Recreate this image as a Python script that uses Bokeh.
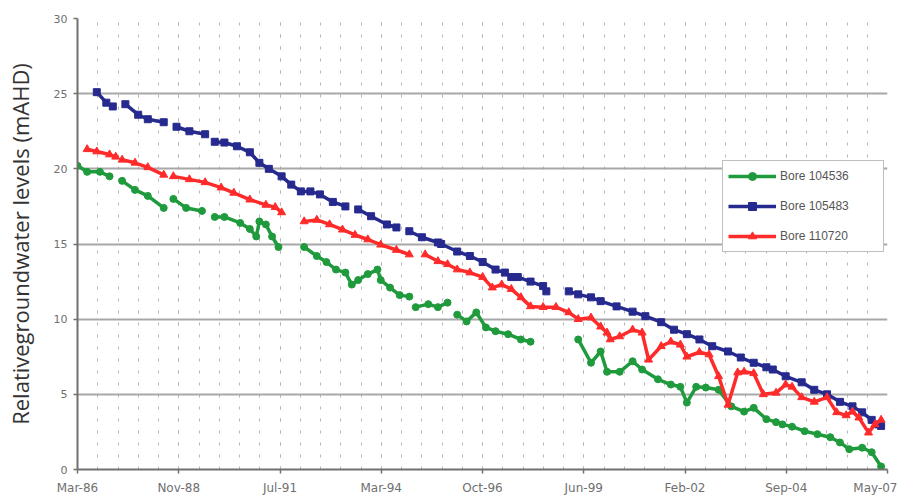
import numpy as np
import pandas as pd
from bokeh.plotting import figure
from bokeh.models import Range1d, FixedTicker, Legend, LegendItem
from bokeh.embed import file_html
from bokeh.resources import INLINE

# ---------------- data (None = gap in record) ----------------
tick_labels = ["Mar-86", "Nov-88", "Jul-91", "Mar-94", "Oct-96",
               "Jun-99", "Feb-02", "Sep-04", "May-07"]
y_ticks = [0, 5, 10, 15, 20, 25, 30]

green_dates = ["1986-03", "1986-06", "1986-10", "1987-01", None,
               "1987-05", "1987-09", "1988-01", "1988-06", None,
               "1988-09", "1989-01", "1989-06", None,
               "1989-10", "1990-01", "1990-06", "1990-09", "1990-11", "1990-12",
               "1991-02", "1991-04", "1991-06", None,
               "1992-02", "1992-06", "1992-09", "1992-12", "1993-03", "1993-05",
               "1993-07", "1993-10", "1994-01", "1994-02", "1994-05", "1994-08",
               "1994-11", None,
               "1995-01", "1995-05", "1995-08", "1995-11", None,
               "1996-02", "1996-05", "1996-08", "1996-11", "1997-02", "1997-06",
               "1997-10", "1998-01", None,
               "1999-04", "1999-08", "1999-11", "2000-01", "2000-05", "2000-09",
               "2000-12", "2001-05", "2001-09", "2001-12", "2002-02", "2002-05",
               "2002-08", "2002-12", "2003-04", "2003-08", "2003-11", "2004-03",
               "2004-06", "2004-08", "2004-11", "2005-03", "2005-07", "2005-11",
               "2006-02", "2006-05", "2006-09", "2006-12", "2007-03"]
green_vals = [20.2, 19.8, 19.8, 19.5, None,
              19.2, 18.6, 18.2, 17.4, None,
              18.0, 17.4, 17.2, None,
              16.8, 16.8, 16.4, 16.0, 15.5, 16.5,
              16.3, 15.5, 14.8, None,
              14.8, 14.2, 13.8, 13.3, 13.1, 12.3,
              12.6, 13.0, 13.3, 12.6, 12.1, 11.6,
              11.5, None,
              10.8, 11.0, 10.8, 11.1, None,
              10.3, 9.85, 10.45, 9.45, 9.2, 9.0,
              8.65, 8.5, None,
              8.65, 7.1, 7.85, 6.5, 6.5, 7.2,
              6.65, 6.0, 5.65, 5.5, 4.45, 5.5,
              5.45, 5.3, 4.2, 3.85, 4.1, 3.35,
              3.15, 3.0, 2.85, 2.55, 2.35, 2.15,
              1.8, 1.35, 1.45, 1.15, 0.2]

blue_dates = ["1986-09", "1986-12", "1987-02", None,
              "1987-06", "1987-10", "1988-01", "1988-06", None,
              "1988-10", "1989-02", "1989-07", None,
              "1989-10", "1990-01", "1990-05", "1990-09", "1990-12", "1991-03",
              "1991-07", "1991-10", "1992-01", "1992-04", "1992-07", "1992-11",
              "1993-03", None,
              "1993-07", "1993-11", "1994-04", "1994-07", None,
              "1994-11", "1995-03", "1995-08", "1995-09", "1996-02", "1996-06",
              "1996-10", "1997-02", "1997-05", "1997-07", None,
              "1997-09", "1998-01", "1998-05", "1998-06", None,
              "1999-01", "1999-04", "1999-08", "1999-11", "2000-04", "2000-09",
              "2001-01", "2001-06", "2001-10", "2002-02", "2002-06", "2002-10",
              "2003-03", "2003-07", "2003-11", "2004-03", "2004-05", "2004-09",
              "2005-02", "2005-06", "2005-10", "2006-02", "2006-06", "2006-09",
              "2006-12", "2007-02", "2007-03"]
blue_vals = [25.1, 24.4, 24.15, None,
             24.3, 23.6, 23.3, 23.1, None,
             22.8, 22.5, 22.3, None,
             21.8, 21.75, 21.5, 21.1, 20.4, 20.0,
             19.5, 18.95, 18.5, 18.5, 18.3, 17.8,
             17.5, None,
             17.3, 16.85, 16.3, 16.1, None,
             15.85, 15.45, 15.1, 15.0, 14.5, 14.2,
             13.8, 13.3, 13.1, 12.8, None,
             12.8, 12.5, 12.2, 11.85, None,
             11.85, 11.65, 11.45, 11.2, 10.85, 10.5,
             10.2, 9.8, 9.3, 9.0, 8.65, 8.2,
             7.85, 7.45, 7.1, 6.8, 6.65, 6.2,
             5.8, 5.3, 5.0, 4.5, 4.2, 3.8,
             3.3, 3.0, 2.9]

red_dates = ["1986-06", "1986-09", "1987-01", "1987-03", None,
             "1987-05", "1987-09", "1988-01", "1988-06", None,
             "1988-09", "1989-02", "1989-07", "1989-12", "1990-04", "1990-09",
             "1991-02", "1991-05", "1991-07", None,
             "1992-02", "1992-06", "1992-10", "1993-02", "1993-06", "1993-10",
             "1994-02", "1994-07", "1994-11", None,
             "1995-04", "1995-08", "1995-11", "1996-02", "1996-06", "1996-10",
             "1997-01", "1997-04", "1997-07", "1997-10", "1998-01", "1998-05",
             "1998-09", "1999-01", "1999-04", "1999-08", "1999-11", "2000-01",
             "2000-02", "2000-05", "2000-09", "2000-12", "2001-02", "2001-06",
             "2001-09", "2001-12", "2002-02", "2002-06", "2002-09", "2002-12",
             "2003-03", "2003-06", "2003-08", "2003-11", "2004-02", "2004-06",
             "2004-09", "2004-11", "2005-02", "2005-06", "2005-10", "2006-01",
             "2006-04", "2006-06", "2006-08", "2006-11", "2007-01", "2007-03"]
red_vals = [21.3, 21.15, 20.95, 20.8, None,
            20.6, 20.4, 20.1, 19.6, None,
            19.5, 19.3, 19.1, 18.75, 18.4, 17.95,
            17.6, 17.45, 17.1, None,
            16.5, 16.6, 16.3, 15.95, 15.6, 15.3,
            14.95, 14.6, 14.3, None,
            14.3, 13.85, 13.65, 13.3, 13.1, 12.8,
            12.1, 12.3, 12.0, 11.45, 10.85, 10.8,
            10.8, 10.45, 10.0, 10.1, 9.5, 9.1,
            8.65, 8.85, 9.3, 9.1, 7.3, 8.2,
            8.5, 8.3, 7.5, 7.8, 7.65, 6.2,
            4.3, 6.45, 6.5, 6.4, 5.0, 5.1,
            5.65, 5.5, 4.8, 4.5, 4.8, 3.8,
            3.6, 3.85, 3.45, 2.45, 3.0, 3.3]

series = [
    ("Bore 104536", green_dates, green_vals, "#1f9a3c", "circle", 7),
    ("Bore 105483", blue_dates, blue_vals, "#262a8e", "square", 7),
    ("Bore 110720", red_dates, red_vals, "#ff2b2b", "triangle", 8),
]


def to_ms(d):
    return np.nan if d is None else pd.Timestamp(d + "-01").value / 1e6


def to_val(v):
    return np.nan if v is None else v


x_start = int(pd.Timestamp("1986-03-01").value // 10**6)
x_end = int(pd.Timestamp("2007-05-01").value // 10**6)
n_int = len(tick_labels) - 1
major = [int(round(x_start + i * (x_end - x_start) / n_int)) for i in range(n_int + 1)]
minor = [int(round(x_start + i * (x_end - x_start) / (n_int * 5))) for i in range(n_int * 5 + 1)]

p = figure(width=897, height=497, output_backend="svg", toolbar_location=None,
           x_range=Range1d(x_start, x_end), y_range=Range1d(0, 30),
           min_border_left=77, min_border_right=10, min_border_top=18,
           min_border_bottom=28)
p.outline_line_color = None
p.background_fill_color = "white"
p.border_fill_color = "white"

renderers = []
for name, dates, vals, col, mk, sz in series:
    xs = [to_ms(d) for d in dates]
    ys = [to_val(v) for v in vals]
    ln = p.line(xs, ys, line_color=col, line_width=3.5)
    sc = p.scatter(xs, ys, marker=mk, size=sz, fill_color=col, line_color=col)
    renderers.append((name, ln, sc))

# axes
p.xaxis.ticker = FixedTicker(ticks=major, minor_ticks=minor)
p.xaxis.major_label_overrides = {t: lab for t, lab in zip(major, tick_labels)}
p.yaxis.ticker = FixedTicker(ticks=y_ticks)
for ax in (p.xaxis[0], p.yaxis[0]):
    ax.axis_line_color = "#707070"
    ax.axis_line_width = 2
    ax.major_tick_line_color = "#707070"
    ax.major_tick_line_width = 1.5
    ax.major_tick_out = 4
    ax.major_tick_in = 0
    ax.minor_tick_line_color = None
    ax.major_label_text_color = "#707070"
    ax.major_label_text_font = "DejaVu Sans"
    ax.major_label_text_font_size = "11px"
p.xaxis.major_label_text_font_size = "12px"
p.xaxis.major_label_standoff = 7
p.yaxis.major_label_standoff = 6
p.yaxis.axis_label = "Relativegroundwater levels (mAHD)"
p.yaxis.axis_label_text_font = "Open Sans"
p.yaxis.axis_label_text_font_style = "normal"
p.yaxis.axis_label_text_font_size = "22px"
p.yaxis.axis_label_text_color = "#333333"
p.yaxis.axis_label_standoff = 16

# grids
p.ygrid.grid_line_color = "#a8a8a8"
p.ygrid.grid_line_width = 2
p.xgrid.grid_line_color = "#b5b5b5"
p.xgrid.grid_line_dash = "3 9"
p.xgrid.grid_line_width = 1
p.xgrid.minor_grid_line_color = "#b5b5b5"
p.xgrid.minor_grid_line_dash = "3 9"
p.xgrid.minor_grid_line_width = 1

legend = Legend(items=[LegendItem(label=n, renderers=[l, s]) for n, l, s in renderers],
                location=(645, 217), orientation="vertical")
legend.border_line_color = "#808080"
legend.border_line_width = 1.5
legend.background_fill_color = "white"
legend.background_fill_alpha = 1
legend.label_text_font = "Liberation Sans"
legend.label_text_font_size = "12px"
legend.label_text_color = "#555555"
legend.glyph_width = 48
legend.glyph_height = 20
legend.label_height = 20
legend.label_width = 98
legend.label_standoff = 4
legend.spacing = 10
legend.padding = 5
legend.margin = 0
p.add_layout(legend, "center")

open("out.html", "w").write(file_html(p, INLINE))
